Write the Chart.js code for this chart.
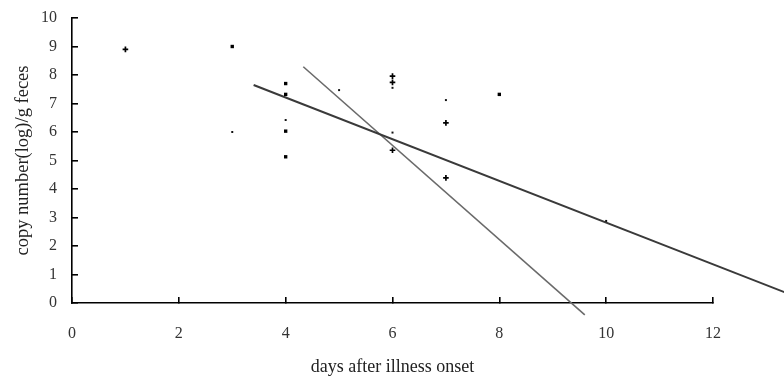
<!DOCTYPE html>
<html>
<head>
<meta charset="utf-8">
<script src="https://cdn.jsdelivr.net/npm/chart.js@4/dist/chart.umd.min.js"></script>
<style>
  html, body { margin: 0; padding: 0; background: #fff; }
  canvas { display: block; }
</style>
</head>
<body>
<canvas id="chart" width="784" height="378"></canvas>
<script>
const squarePoints = [[3, 9.0], [4, 7.7], [4, 7.32], [4, 6.03], [4, 5.13], [8, 7.32]];
const crossPoints = [[1, 8.9], [6, 7.96], [6, 7.74], [6, 5.36], [7, 6.32], [7, 4.39]];
const faintPoints = [[3, 6.0], [4, 6.42], [5, 7.47], [6, 7.55], [6, 5.98], [7, 7.12], [10, 2.88]];

// the two fitted lines (end points)
const fitShallow = [[3.4, 7.65], [13.35, 0.37]];
const fitSteep = [[4.33, 8.29], [9.6, -0.42]];

const xTicks = [0, 2, 4, 6, 8, 10, 12];
const yTicks = [0, 1, 2, 3, 4, 5, 6, 7, 8, 9, 10];

const toXY = arr => arr.map(([x, y]) => ({ x, y }));
const font = { family: "'Liberation Serif', 'Times New Roman', serif", size: 16 };

new Chart(document.getElementById('chart'), {
  type: 'scatter',
  data: {
    datasets: [
      {
        data: toXY(squarePoints),
        pointStyle: 'rect', pointRadius: 2.4,
        backgroundColor: '#000', borderColor: '#000', borderWidth: 0,
        clip: false
      },
      {
        data: toXY(crossPoints),
        pointStyle: 'cross', pointRadius: 2.8,
        backgroundColor: '#000', borderColor: '#000', borderWidth: 1.7,
        clip: false
      },
      {
        data: toXY(faintPoints),
        pointStyle: 'rect', pointRadius: 1.4,
        backgroundColor: '#111', borderColor: '#111', borderWidth: 0,
        clip: false
      },
      {
        type: 'line',
        data: toXY(fitShallow),
        borderColor: '#3a3a3a', borderWidth: 2,
        pointRadius: 0, showLine: true, clip: false
      },
      {
        type: 'line',
        data: toXY(fitSteep),
        borderColor: '#6a6a6a', borderWidth: 1.6,
        pointRadius: 0, showLine: true, clip: false
      }
    ]
  },
  options: {
    responsive: false,
    animation: false,
    events: [],
    layout: { padding: { left: 0, right: 71, top: 18, bottom: 0 } },
    plugins: {
      legend: { display: false },
      tooltip: { enabled: false }
    },
    scales: {
      x: {
        type: 'linear',
        min: 0, max: 12,
        afterBuildTicks: s => { s.ticks = xTicks.map(v => ({ value: v })); },
        afterFit: s => { s.height = 75; s.paddingLeft = 0; s.paddingRight = 0; },
        border: { display: true, color: '#000', width: 1.6 },
        grid: { drawOnChartArea: false, color: '#000', lineWidth: 1.6, tickLength: -6 },
        ticks: { color: '#333', font, padding: 27 },
        title: {
          display: true, text: 'days after illness onset',
          color: '#222', font: { ...font, size: 18 }, padding: { top: 0, bottom: 0 }
        }
      },
      y: {
        type: 'linear',
        min: 0, max: 10,
        afterBuildTicks: s => { s.ticks = yTicks.map(v => ({ value: v })); },
        afterFit: s => { s.width = 72; s.paddingTop = 0; s.paddingBottom = 0; },
        border: { display: true, color: '#000', width: 1.6 },
        grid: { drawOnChartArea: false, color: '#000', lineWidth: 1.6, tickLength: -6 },
        ticks: { color: '#333', font, padding: 21 },
        title: {
          display: true, text: 'copy number(log)/g feces',
          color: '#222', font: { ...font, size: 18.5 }, padding: { top: 12, bottom: 0 }
        }
      }
    }
  }
});
</script>
</body>
</html>
